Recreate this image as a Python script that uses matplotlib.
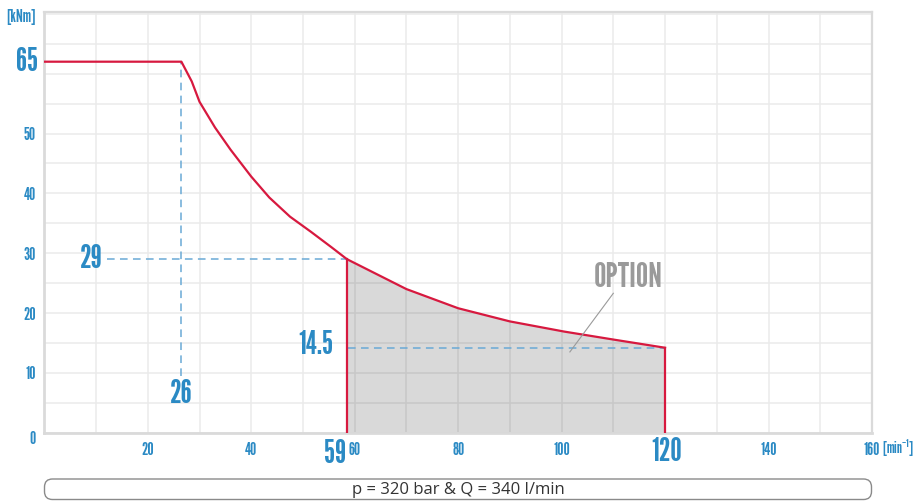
import matplotlib
matplotlib.use("Agg")
import matplotlib.pyplot as plt
from matplotlib.patches import FancyBboxPatch

# values
speed = [0, 26.5, 28.5, 30, 33, 36, 40, 43.5, 47.5, 51.5, 55.5, 58.5, 70, 80, 90, 100.5, 110.5, 120]
torque = [62, 62, 58.7, 55.3, 51.0, 47.3, 42.8, 39.3, 36.1, 33.6, 31.0, 29.0, 24.0, 20.8, 18.6, 16.9, 15.5, 14.2]
x_ticks = [20, 40, 60, 80, 100, 140, 160]
y_ticks = [10, 20, 30, 40, 50]
opt_start, opt_end = 58.5, 120
knee_speed, knee_torque = 26.5, 62
mid_torque, end_torque = 29.0, 14.2

BLUE = "#2b8ac4"
DASH = "#6aaad6"
RED = "#d7193f"
GRID = "#ebebeb"
COND = ["League Gothic", "Oswald", "DejaVu Sans"]

plt.rcParams["font.family"] = COND
plt.rcParams["mathtext.fontset"] = "custom"
plt.rcParams["mathtext.rm"] = "League Gothic"
plt.rcParams["mathtext.default"] = "rm"

fig = plt.figure(figsize=(9.14, 5.01), dpi=100)
ax = fig.add_axes([0.0485, 0.1363, 0.9055, 0.8397])
ax.set_xlim(0, 160)
ax.set_ylim(0, 70.3)

# grid
ax.set_xticks(range(0, 161, 10))
ax.set_yticks(range(0, 71, 5))
ax.set_xticklabels([str(v) if v in x_ticks else "" for v in range(0, 161, 10)])
ax.set_yticklabels([str(v) if v in y_ticks else "" for v in range(0, 71, 5)])
ax.grid(True, color=GRID, lw=1.1)
ax.set_axisbelow(True)
ax.tick_params(length=0, colors=BLUE, labelsize=12.5)
ax.tick_params(axis="x", pad=7)
ax.tick_params(axis="y", pad=6)
for side, sp in ax.spines.items():
    sp.set_color("#dadada")
    sp.set_linewidth(2 if side in ("left", "bottom") else 1.6)

# option area
sx = [s for s in speed if s >= opt_start]
st = [t for s, t in zip(speed, torque) if s >= opt_start]
ax.fill_between(sx, 0, st, color="black", alpha=0.15, lw=0, zorder=1)

# torque curve
ax.plot(speed, torque, color=RED, lw=1.6, zorder=4)
ax.plot([opt_start, opt_start], [0, mid_torque], color=RED, lw=1.6, zorder=4)
ax.plot([opt_end, opt_end], [0, end_torque], color=RED, lw=1.6, zorder=4)

# dashed guides
dash_kw = dict(color=DASH, lw=1.1, ls=(0, (5, 3.5)), zorder=3)
ax.plot([knee_speed, knee_speed], [9.4, knee_torque], **dash_kw)
ax.plot([12.2, opt_start], [mid_torque, mid_torque], **dash_kw)
ax.plot([opt_start + 0.3, opt_end], [end_torque, end_torque], **dash_kw)

# big value labels
big = dict(color=BLUE, fontsize=23, clip_on=False)
ax.text(-1.2, knee_torque, "65", ha="right", va="center", **big)
ax.text(11.2, mid_torque, "29", ha="right", va="center", **big)
ax.text(knee_speed, 6.5, "26", ha="center", va="center", **big)
ax.text(55.9, 14.6, "14.5", ha="right", va="center", **big)
ax.text(58.3, -3.6, "59", ha="right", va="center", **big)
ax.text(120.4, -3.3, "120", ha="center", va="center", **big)

small = dict(color=BLUE, fontsize=12.5, clip_on=False)
ax.text(-2.2, -1.1, "0", ha="center", va="center", **small)
ax.text(-1.6, 69.4, "[kNm]", ha="right", va="center", **small)
ax.text(162.0, -2.5, "[min$^{-1}$]", ha="left", va="center", color=BLUE,
        fontsize=11.5, clip_on=False)

# option callout
ax.text(112.9, 26.0, "OPTION", color="#9a9a9a", fontsize=25,
        ha="center", va="center")
ax.plot([110.0, 101.6], [23.3, 13.5], color="#9a9a9a", lw=0.8, zorder=5)

# caption box
box = FancyBboxPatch((0.445, 0.015), 8.27, 0.205, boxstyle="round,pad=0,rounding_size=0.08",
                     transform=fig.dpi_scale_trans, fc="white", ec="#8a8a8a", lw=1.0)
fig.patches.append(box)
fig.text(0.501, 0.022, "p = 320 bar & Q = 340 l/min", ha="center", va="center",
         fontsize=12, color="#333333", family=["Open Sans", "DejaVu Sans"])

fig.savefig("out.png", dpi=100)
